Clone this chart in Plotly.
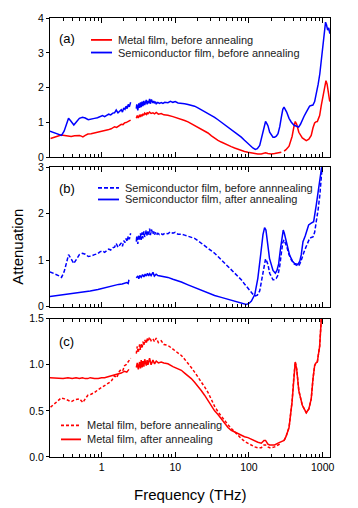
import plotly.graph_objects as go

# ---- data (frequency in THz, attenuation) ----
# metal film, before annealing: THz-TDS part, gap, FTIR part
f_metal_before = [0.203, 0.23, 0.255, 0.283, 0.315, 0.356, 0.387, 0.43, 0.477, 0.502, 0.53, 0.558,
                  0.6, 0.652, 0.72, 0.804, 0.9, 0.99, 1.08, 1.22, 1.35, 1.5, 1.6, 1.75, 1.85, 1.95,
                  2.05, 2.15, 2.28, 2.4, 2.48, None,
                  2.96, 3.05, 3.15, 3.28, 3.37, 3.45, 3.55, 3.64, 3.75, 3.85, 4.04, 4.15, 4.26, 4.48,
                  4.7, 4.98, 5.24, 5.52, 5.9, 6.45, 7.0, 7.95, 9.29, 10.9, 12.1, 13.4, 14.9, 16.5,
                  18.3, 20.3, 22.5, 25, 27.8, 31, 34.2, 38, 42.1, 46.8, 51.9, 57.5, 63.9, 71, 78.7,
                  87, 96.9, 108, 119, 132, 147, 160, 168, 181, 191, 201, 223, 248, 275]
metal_before = [0.54, 0.58, 0.61, 0.64, 0.63, 0.61, 0.60, 0.62, 0.63, 0.63, 0.61, 0.59,
                0.63, 0.67, 0.68, 0.70, 0.73, 0.75, 0.77, 0.79, 0.82, 0.88, 0.86, 0.93, 0.95, 0.94,
                0.99, 1.00, 1.03, 1.06, 1.07, None,
                1.12, 1.20, 1.13, 1.22, 1.16, 1.23, 1.18, 1.25, 1.21, 1.27, 1.23, 1.29, 1.25, 1.30,
                1.26, 1.28, 1.25, 1.29, 1.24, 1.26, 1.22, 1.21, 1.17, 1.13, 1.10, 1.06, 1.02, 0.97,
                0.92, 0.87, 0.82, 0.76, 0.70, 0.62, 0.55, 0.49, 0.44, 0.39, 0.35, 0.31, 0.27, 0.23, 0.20,
                0.17, 0.15, 0.13, 0.11, 0.10, 0.10, 0.13, 0.13, 0.11, 0.10, 0.10, 0.11, 0.13, 0.15]

# metal film, after annealing (below 300 THz)
f_metal_after = [0.199, 0.25, 0.3, 0.35, 0.4, 0.45, 0.5, 0.55, 0.6, 0.65, 0.7, 0.8, 0.9, 1.0, 1.1,
                 1.22, 1.35, 1.5, 1.67, 1.85, 2.05, 2.2, 2.35, None,
                 2.96, 3.05, 3.15, 3.28, 3.37, 3.45, 3.55, 3.64, 3.75, 3.85, 4.04, 4.15, 4.26, 4.48,
                 4.7, 4.98, 5.24, 5.52, 5.9, 6.45, 7.0, 7.95, 9.29, 10.9, 12.1, 13.4, 14.9, 16.5,
                 18.3, 20.3, 22.5, 25, 27.8, 31, 34.2, 38, 42.1, 46.8, 51.9, 57.5, 63.9, 71, 78.7,
                 87, 96.9, 108, 119, 132, 147, 160, 168, 181, 191, 201, 223, 248, 275]
metal_after = [0.86, 0.85, 0.85, 0.86, 0.85, 0.86, 0.85, 0.86, 0.85, 0.85, 0.86, 0.85, 0.85, 0.86, 0.86,
               0.87, 0.88, 0.89, 0.90, 0.91, 0.93, 0.92, 0.95, None,
               0.97, 1.02, 0.95, 1.03, 0.96, 1.05, 0.97, 1.04, 0.98, 1.06, 0.99, 1.05, 1.00, 1.07,
               1.00, 1.05, 1.01, 1.04, 1.02, 1.03, 1.02, 1.01, 0.98, 0.96, 0.94, 0.91, 0.88, 0.85,
               0.81, 0.77, 0.72, 0.67, 0.61, 0.56, 0.50, 0.46, 0.41, 0.37, 0.32, 0.29, 0.27, 0.25, 0.23,
               0.22, 0.21, 0.19, 0.18, 0.16, 0.15, 0.18, 0.18, 0.14, 0.13, 0.13, 0.13, 0.15, 0.17]

# metal film above 300 THz (identical before / after annealing)
f_metal_ir = [300, 318, 350, 385, 405, 425, 445, 475, 530, 600, 650, 700, 740, 779, 810, 847, 880,
              911, 960, 1011, 1060, 1110, 1150, 1206, 1250]
metal_ir = [0.18, 0.22, 0.32, 0.60, 0.85, 1.03, 0.95, 0.72, 0.56, 0.48, 0.52, 0.63, 0.85, 0.99, 1.02,
            1.03, 1.12, 1.20, 1.50, 1.77, 2.05, 2.20, 2.10, 1.87, 1.60]

# semiconductor film, before annealing
f_semi_before = [0.199, 0.23, 0.26, 0.286, 0.31, 0.335, 0.356, 0.38, 0.42, 0.46, 0.5, 0.55, 0.6, 0.66,
                 0.72, 0.8, 0.88, 0.95, 1.03, 1.1, 1.17, 1.25, 1.33, 1.42, 1.5, 1.58, 1.67, 1.75, 1.85,
                 1.92, 2.0, 2.08, 2.15, 2.22, 2.3, 2.38, 2.48, None,
                 2.96, 3.0, 3.1, 3.2, 3.28, 3.37, 3.45, 3.55, 3.64, 3.75, 3.85, 4.04, 4.15, 4.26, 4.37,
                 4.48, 4.6, 4.75, 4.98, 5.1, 5.24, 5.4, 5.52, 5.8, 6.1, 6.45, 6.8, 7.2, 7.95, 8.6, 9.29,
                 10.0, 10.9, 12.1, 13.4, 14.9, 16.5, 18.3, 20.3, 22.5, 25, 27.8, 31, 34.2, 38, 42.1,
                 46.8, 51.9, 57.5, 63.9, 71, 78.7, 87, 96.9, 105, 113, 122, 130, 140, 148, 155, 162,
                 168, 175, 181, 191, 201, 212, 223, 235, 248, 262, 275, 288, 299, 312, 325, 350, 376,
                 410, 439, 460, 472, 500, 524, 560, 600, 640, 666, 700, 739, 779, 820, 870, 916, 960,
                 1000, 1030, 1060, 1095, 1130, 1170, 1210, 1250]
semi_before = [0.75, 0.71, 0.67, 0.63, 0.75, 0.95, 1.12, 1.05, 0.93, 1.03, 1.12, 1.15, 1.13, 1.08,
               1.09, 1.12, 1.14, 1.18, 1.20, 1.17, 1.21, 1.24, 1.22, 1.27, 1.28, 1.36, 1.28, 1.32, 1.37,
               1.30, 1.42, 1.38, 1.47, 1.40, 1.52, 1.45, 1.58, None,
               1.40, 1.52, 1.35, 1.55, 1.42, 1.58, 1.44, 1.60, 1.47, 1.62, 1.50, 1.65, 1.52, 1.62, 1.55,
               1.68, 1.54, 1.66, 1.56, 1.62, 1.55, 1.60, 1.54, 1.58, 1.55, 1.57, 1.55, 1.58, 1.57, 1.61,
               1.58, 1.60, 1.56, 1.56, 1.54, 1.52, 1.50, 1.47, 1.42, 1.37, 1.31, 1.25, 1.20, 1.15, 1.08,
               1.01, 0.94, 0.87, 0.80, 0.72, 0.65, 0.58, 0.49, 0.39, 0.32, 0.27, 0.23, 0.25, 0.34, 0.55,
               0.77, 0.97, 1.03, 0.97, 0.91, 0.72, 0.63, 0.58, 0.58, 0.61, 0.68, 0.88, 1.15, 1.38, 1.44,
               1.38, 1.30, 1.12, 1.01, 0.92, 0.89, 0.87, 0.87, 0.95, 1.06, 1.18, 1.30, 1.40, 1.47, 1.49,
               1.50, 1.60, 1.80, 2.10, 2.40, 2.80, 3.20, 3.55, 3.80, 3.88, 3.80, 3.65, 3.72, 3.55, 3.40]

# semiconductor film, after annealing
f_semi_after = [0.199, 0.25, 0.315, 0.4, 0.53, 0.7, 0.892, 1.1, 1.3, 1.5, 1.7, 1.9, 2.05, 2.2, 2.3,
                2.35, None,
                2.96, 3.1, 3.2, 3.3, 3.45, 3.6, 3.75, 3.9, 4.04, 4.2, 4.35, 4.5, 4.7, 4.98, 5.2, 5.5,
                5.8, 6.45, 7.2, 7.95, 9.29, 10.9, 12.1, 14.9, 18.3, 22.5, 27.8, 34.2, 42.1, 51.9, 63.9,
                78.7, 92, 100, 108, 120, 132, 145, 155, 163, 170, 178, 190, 212, 228, 240, 253, 268,
                282, 292, 302, 318, 356, 390, 417, 463, 490, 513, 541, 580, 620, 646, 700, 755, 820,
                911, 960, 1010]
semi_after = [0.22, 0.24, 0.26, 0.28, 0.31, 0.34, 0.37, 0.41, 0.44, 0.46, 0.48, 0.49, 0.50, 0.52, 0.50,
              0.58, None,
              0.62, 0.66, 0.60, 0.67, 0.63, 0.69, 0.64, 0.70, 0.66, 0.72, 0.66, 0.71, 0.67, 0.74, 0.66,
              0.70, 0.67, 0.66, 0.65, 0.63, 0.59, 0.56, 0.53, 0.47, 0.41, 0.35, 0.29, 0.24, 0.20, 0.16,
              0.12, 0.09, 0.05, 0.07, 0.12, 0.26, 0.61, 1.15, 1.55, 1.70, 1.65, 1.40, 1.04, 0.78, 0.72,
              0.78, 0.92, 1.25, 1.55, 1.65, 1.58, 1.42, 1.11, 0.98, 0.93, 0.91, 0.98, 1.12, 1.40, 1.52,
              1.65, 1.76, 1.80, 1.83, 2.19, 2.76, 3.0, 3.2]

RED = '#ff0000'
BLUE = '#0000ff'
FONT = 'Liberation Sans, Arial, sans-serif'

fig = go.Figure()

# panel (a)
fig.add_trace(go.Scatter(x=f_metal_before + [None] + f_metal_ir, y=metal_before + [None] + metal_ir,
                         mode='lines', line=dict(color=RED, width=1.5), xaxis='x', yaxis='y'))
fig.add_trace(go.Scatter(x=f_semi_before, y=semi_before, mode='lines',
                         line=dict(color=BLUE, width=1.5), xaxis='x', yaxis='y'))
# panel (b)
fig.add_trace(go.Scatter(x=f_semi_before, y=semi_before, mode='lines',
                         line=dict(color=BLUE, width=1.5, dash='4px,2px'), xaxis='x2', yaxis='y2'))
fig.add_trace(go.Scatter(x=f_semi_after, y=semi_after, mode='lines',
                         line=dict(color=BLUE, width=1.5), xaxis='x2', yaxis='y2'))
# panel (c)
fig.add_trace(go.Scatter(x=f_metal_before + [None] + f_metal_ir, y=metal_before + [None] + metal_ir,
                         mode='lines', line=dict(color=RED, width=1.5, dash='3px,2px'),
                         xaxis='x3', yaxis='y3'))
fig.add_trace(go.Scatter(x=f_metal_after + f_metal_ir, y=metal_after + metal_ir, mode='lines',
                         line=dict(color=RED, width=1.5), xaxis='x3', yaxis='y3'))

domains = [[0.6825, 1.0], [0.3424, 0.6599], [0.0, 0.3152]]
yranges = [[0, 4], [0, 3], [0, 1.5]]
ydticks = [1, 1, 0.5]

xax = dict(type='log', range=[-0.70, 3.10], dtick=1, exponentformat='none',
           ticks='inside', ticklen=5, tickcolor='black', mirror='allticks',
           showline=True, linecolor='black', linewidth=1, showgrid=False, zeroline=False,
           minor=dict(dtick='D1', ticks='inside', ticklen=3, tickcolor='black', showgrid=False),
           tickfont=dict(family=FONT, size=10.5, color='black'))

layout = dict(width=358, height=508, margin=dict(l=50, r=28, t=16, b=51),
              paper_bgcolor='white', plot_bgcolor='white', showlegend=False,
              font=dict(family=FONT, color='black'))

for i in range(3):
    n = '' if i == 0 else str(i + 1)
    layout['xaxis' + n] = dict(xax, anchor='y' + n, showticklabels=(i == 2),
                               **({} if i == 0 else {'matches': 'x'}))
    layout['yaxis' + n] = dict(domain=domains[i], range=yranges[i], dtick=ydticks[i], anchor='x' + n,
                               ticks='outside', ticklen=3, tickcolor='black', showline=True,
                               linecolor='black', linewidth=1, mirror=True, showgrid=False,
                               zeroline=False, tickformat='.1f' if i == 2 else 'd',
                               tickfont=dict(family=FONT, size=10.5, color='black'))
    # right-hand inside ticks
    layout['yaxis' + str(i + 4)] = dict(overlaying='y' + n, side='right', anchor='x' + n,
                                        range=yranges[i], dtick=ydticks[i], ticks='inside',
                                        ticklen=4, tickcolor='black', showticklabels=False,
                                        showgrid=False, zeroline=False, showline=False)

fig.update_layout(**layout)


def px_x(px):
    return (px - 50) / 280


def px_y(py):
    return (457 - py) / 441


# panel labels
for lab, py in [('(a)', 36.7), ('(b)', 187), ('(c)', 341)]:
    fig.add_annotation(text=lab, xref='paper', yref='paper', x=px_x(57), y=px_y(py),
                       xanchor='left', yanchor='middle', showarrow=False,
                       font=dict(family=FONT, size=13, color='black'))

# hand-made legends
legend_items = [
    (91, 112, 38, 'Metal film, before annealing', RED, 'solid'),
    (91, 112, 50.7, 'Semiconductor film, before annealing', BLUE, 'solid'),
    (98, 119, 186.7, 'Semiconductor film, before annnealing', BLUE, '4px,2px'),
    (98, 119, 198.3, 'Semiconductor film, after annealing', BLUE, 'solid'),
    (61, 81, 425.3, 'Metal film, before annealing', RED, '3px,2px'),
    (61, 81, 439.3, 'Metal film, after annealing', RED, 'solid'),
]
for x0, x1, py, txt, col, dash in legend_items:
    fig.add_shape(type='line', xref='paper', yref='paper', x0=px_x(x0), x1=px_x(x1),
                  y0=px_y(py), y1=px_y(py), line=dict(color=col, width=1.8, dash=dash))
    fig.add_annotation(text=txt, xref='paper', yref='paper', x=px_x(x1 + 4), y=px_y(py),
                       xanchor='left', yanchor='middle', showarrow=False,
                       font=dict(family=FONT, size=11, color='#222222'))

# axis titles
fig.add_annotation(text='Frequency (THz)', xref='paper', yref='paper', x=0.5, y=px_y(495),
                   xanchor='center', yanchor='middle', showarrow=False,
                   font=dict(family=FONT, size=15, color='black'))
fig.add_annotation(text='Attenuation', xref='paper', yref='paper', x=px_x(17.7), y=px_y(246),
                   xanchor='center', yanchor='middle', textangle=-90, showarrow=False,
                   font=dict(family=FONT, size=15, color='black'))

# the page's default body margin would shift the figure by 8 px
fig.write_html("out.html", config={'displayModeBar': False},
               post_script="document.body.style.margin='0';"
                           "document.body.style.overflow='hidden';")
